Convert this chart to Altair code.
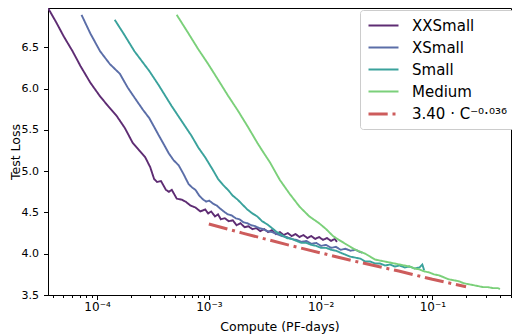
import altair as alt
import pandas as pd

# ---- data ----
series_names = ["XXSmall", "XSmall", "Small", "Medium", "3.40 · C⁻⁰·⁰³⁶"]
series_colors = ["#5e2c73", "#5b6ea8", "#3aa29c", "#7bd07a", "#cd5c5c"]

xxs_c = [3.64e-5, 4.28e-5, 5.04e-5, 6.04e-5, 7.10e-5, 8.71e-5, 1.065e-4, 1.26e-4, 1.50e-4, 1.77e-4,
         2.08e-4, 2.39e-4, 2.70e-4, 2.99e-4, 3.24e-4, 3.44e-4, 3.73e-4, 4.13e-4, 4.39e-4, 4.66e-4,
         5.16e-4, 5.71e-4, 6.19e-4, 6.86e-4, 7.58e-4, 8.39e-4, 9.28e-4, 9.86e-4, 1.05e-3, 1.135e-3,
         1.21e-3, 1.28e-3, 1.39e-3, 1.51e-3, 1.64e-3, 1.77e-3, 1.92e-3, 2.09e-3, 2.26e-3, 2.45e-3,
         2.66e-3, 2.88e-3, 3.13e-3, 3.39e-3, 3.67e-3, 3.98e-3, 4.32e-3, 4.68e-3, 5.08e-3, 5.51e-3,
         5.97e-3, 6.47e-3, 7.02e-3, 7.61e-3, 8.25e-3, 8.95e-3, 9.70e-3, 1.05e-2, 1.14e-2, 1.24e-2,
         1.34e-2, 1.40e-2]
xxs_loss = [6.976, 6.81, 6.631, 6.452, 6.274, 6.071, 5.905, 5.786, 5.667, 5.524,
            5.345, 5.25, 5.167, 5.048, 4.905, 4.869, 4.881, 4.774, 4.75, 4.774,
            4.667, 4.655, 4.631, 4.583, 4.56, 4.512, 4.536, 4.488, 4.512, 4.452,
            4.476, 4.417, 4.429, 4.393, 4.405, 4.345, 4.369, 4.321, 4.333, 4.298,
            4.31, 4.274, 4.298, 4.262, 4.286, 4.238, 4.262, 4.226, 4.25, 4.214,
            4.238, 4.202, 4.226, 4.19, 4.214, 4.179, 4.202, 4.167, 4.19, 4.155,
            4.179, 4.143]

xs_c = [7.26e-5, 8.71e-5, 1.065e-4, 1.30e-4, 1.60e-4, 1.88e-4, 2.25e-4, 2.59e-4, 2.93e-4, 3.24e-4,
        3.58e-4, 3.97e-4, 4.39e-4, 4.85e-4, 5.37e-4, 5.94e-4, 6.58e-4, 7.14e-4, 7.59e-4, 8.22e-4,
        8.91e-4, 9.47e-4, 1.007e-3, 1.09e-3, 1.18e-3, 1.26e-3, 1.36e-3, 1.48e-3, 1.60e-3, 1.74e-3,
        1.88e-3, 2.04e-3, 2.21e-3, 2.40e-3, 2.60e-3, 2.82e-3, 3.06e-3, 3.32e-3, 3.67e-3, 4.06e-3,
        4.50e-3, 4.98e-3, 5.51e-3, 6.09e-3, 6.74e-3, 7.46e-3, 8.26e-3, 9.14e-3, 1.01e-2, 1.12e-2,
        1.24e-2, 1.37e-2, 1.51e-2, 1.67e-2, 1.85e-2, 2.05e-2, 2.22e-2, 2.36e-2]
xs_loss = [6.893, 6.667, 6.452, 6.298, 6.179, 6.012, 5.857, 5.738, 5.643, 5.536,
           5.429, 5.321, 5.214, 5.131, 5.071, 4.964, 4.845, 4.798, 4.774, 4.702,
           4.655, 4.631, 4.643, 4.607, 4.583, 4.548, 4.512, 4.476, 4.464, 4.429,
           4.417, 4.381, 4.369, 4.345, 4.333, 4.31, 4.298, 4.274, 4.262, 4.238,
           4.214, 4.202, 4.179, 4.167, 4.143, 4.155, 4.119, 4.131, 4.095, 4.107,
           4.071, 4.083, 4.048, 4.06, 4.036, 4.048, 4.024, 4.012]

s_c = [1.44e-4, 1.77e-4, 2.16e-4, 2.93e-4, 3.58e-4, 4.66e-4, 5.71e-4, 6.99e-4, 8.05e-4, 9.28e-4,
       1.09e-3, 1.21e-3, 1.34e-3, 1.48e-3, 1.64e-3, 1.81e-3, 2.00e-3, 2.21e-3, 2.45e-3, 2.71e-3,
       3.00e-3, 3.32e-3, 3.67e-3, 4.06e-3, 4.50e-3, 4.98e-3, 5.51e-3, 6.09e-3, 6.74e-3, 7.46e-3,
       8.26e-3, 9.14e-3, 1.01e-2, 1.12e-2, 1.24e-2, 1.37e-2, 1.51e-2, 1.67e-2, 1.85e-2, 2.05e-2,
       2.27e-2, 2.51e-2, 2.78e-2, 3.08e-2, 3.40e-2, 3.77e-2, 4.17e-2, 4.61e-2, 5.10e-2, 5.65e-2,
       6.25e-2, 6.92e-2, 7.66e-2, 8.13e-2, 8.45e-2]
s_loss = [6.833, 6.643, 6.452, 6.214, 6.036, 5.786, 5.607, 5.429, 5.286, 5.167,
          5.012, 4.905, 4.833, 4.774, 4.702, 4.655, 4.595, 4.536, 4.488, 4.452,
          4.393, 4.357, 4.31, 4.262, 4.226, 4.19, 4.179, 4.155, 4.131, 4.131,
          4.107, 4.095, 4.071, 4.071, 4.048, 4.036, 4.012, 3.988, 3.964, 3.952,
          3.94, 3.905, 3.905, 3.881, 3.881, 3.857, 3.869, 3.845, 3.857, 3.833,
          3.845, 3.821, 3.833, 3.869, 3.798]

m_c = [5.16e-4, 6.58e-4, 8.05e-4, 9.86e-4, 1.21e-3, 1.48e-3, 1.81e-3, 2.21e-3, 2.71e-3, 3.00e-3,
       3.52e-3, 4.32e-3, 5.28e-3, 6.47e-3, 7.92e-3, 9.70e-3, 1.12e-2, 1.29e-2, 1.46e-2, 1.67e-2,
       1.85e-2, 2.05e-2, 2.27e-2, 2.51e-2, 2.78e-2, 3.08e-2, 3.40e-2, 3.77e-2, 4.17e-2, 4.61e-2,
       5.10e-2, 5.65e-2, 6.25e-2, 6.92e-2, 7.66e-2, 8.45e-2, 9.35e-2, 0.1035, 0.1146, 0.1268,
       0.140, 0.155, 0.172, 0.190, 0.210, 0.233, 0.258, 0.285, 0.315, 0.349,
       0.386, 0.402]
m_loss = [6.893, 6.667, 6.476, 6.298, 6.107, 5.917, 5.738, 5.548, 5.345, 5.25,
          5.107, 4.893, 4.726, 4.571, 4.452, 4.369, 4.298, 4.214, 4.167, 4.119,
          4.083, 4.048, 4.024, 4.0, 3.964, 3.929, 3.917, 3.905, 3.893, 3.881,
          3.869, 3.857, 3.845, 3.821, 3.81, 3.786, 3.774, 3.75, 3.738, 3.714,
          3.69, 3.679, 3.667, 3.643, 3.631, 3.619, 3.607, 3.595, 3.595, 3.583,
          3.583, 3.571]

fit_c = [1.0e-3, 2.0e-3, 5.0e-3, 1.0e-2, 2.0e-2, 5.0e-2, 0.1, 0.2]
fit_loss = [4.36, 4.25, 4.11, 4.01, 3.91, 3.79, 3.69, 3.60]

x_ticks = [4e-5, 5e-5, 6e-5, 7e-5, 8e-5, 9e-5,
           1e-4, 2e-4, 3e-4, 4e-4, 5e-4, 6e-4, 7e-4, 8e-4, 9e-4,
           1e-3, 2e-3, 3e-3, 4e-3, 5e-3, 6e-3, 7e-3, 8e-3, 9e-3,
           1e-2, 2e-2, 3e-2, 4e-2, 5e-2, 6e-2, 7e-2, 8e-2, 9e-2,
           0.1, 0.2, 0.3, 0.4, 0.5]
y_ticks = [3.5, 4.0, 4.5, 5.0, 5.5, 6.0, 6.5]

# ---- table ----
frames = []
for name, cs, ls in zip(series_names,
                        [xxs_c, xs_c, s_c, m_c, fit_c],
                        [xxs_loss, xs_loss, s_loss, m_loss, fit_loss]):
    d = pd.DataFrame({"C": cs, "loss": ls})
    d["series"] = name
    frames.append(d)
df = pd.concat(frames, ignore_index=True)

dashes = [[1, 0], [1, 0], [1, 0], [1, 0], [19.2, 4.8, 3, 4.8]]
widths = [1.9, 1.9, 1.9, 1.9, 3]

label_expr = ("datum.value == 0.0001 ? '10⁻⁴' : datum.value == 0.001 ? '10⁻³' : "
              "datum.value == 0.01 ? '10⁻²' : datum.value == 0.1 ? '10⁻¹' : ''")
major_test = ("datum.value == 0.0001 || datum.value == 0.001 || "
              "datum.value == 0.01 || datum.value == 0.1")

chart = alt.Chart(df).mark_line(clip=True).encode(
    x=alt.X("C:Q",
            scale=alt.Scale(type="log", domain=[3.64e-5, 0.505], nice=False),
            axis=alt.Axis(values=x_ticks, labelExpr=label_expr, labelOverlap=False,
                          labelFlush=False, labelPadding=2, titlePadding=8,
                          labelFontSize=12,
                          tickSize={"condition": {"test": major_test, "value": 4.5}, "value": 2.5}),
            title="Compute (PF-days)"),
    y=alt.Y("loss:Q",
            scale=alt.Scale(domain=[3.5, 6.976], nice=False, zero=False),
            axis=alt.Axis(values=y_ticks, format=".1f", tickSize=4.5, labelPadding=5,
                          titlePadding=-1),
            title="Test Loss"),
    color=alt.Color("series:N", scale=alt.Scale(domain=series_names, range=series_colors),
                    title=None),
    strokeDash=alt.StrokeDash("series:N", scale=alt.Scale(domain=series_names, range=dashes),
                              title=None),
    strokeWidth=alt.StrokeWidth("series:N",
                                scale=alt.Scale(type="ordinal", domain=series_names, range=widths),
                                title=None),
).properties(
    width=463, height=287,
    autosize="none",
    padding={"left": 40, "top": 0, "right": 1, "bottom": 41},
    background="white",
).configure_view(
    stroke="black", strokeWidth=1
).configure_axis(
    grid=False, domainColor="black", domainWidth=1, tickColor="black", tickWidth=1,
    labelColor="black", titleColor="black",
    labelFont="DejaVu Sans", titleFont="DejaVu Sans",
    labelFontSize=11, titleFontSize=12.5, titleFontWeight="normal",
).configure_legend(
    orient="none", legendX=312, legendY=2,
    labelFont="DejaVu Sans", labelFontSize=15, labelColor="black", labelLimit=220,
    symbolType="M-1,0H3", symbolSize=225, labelOffset=27,
    rowPadding=5, padding=7,
    fillColor="white", strokeColor="#cccccc", cornerRadius=3,
)

chart.save("out.html", embed_options={"renderer": "svg", "actions": False})
